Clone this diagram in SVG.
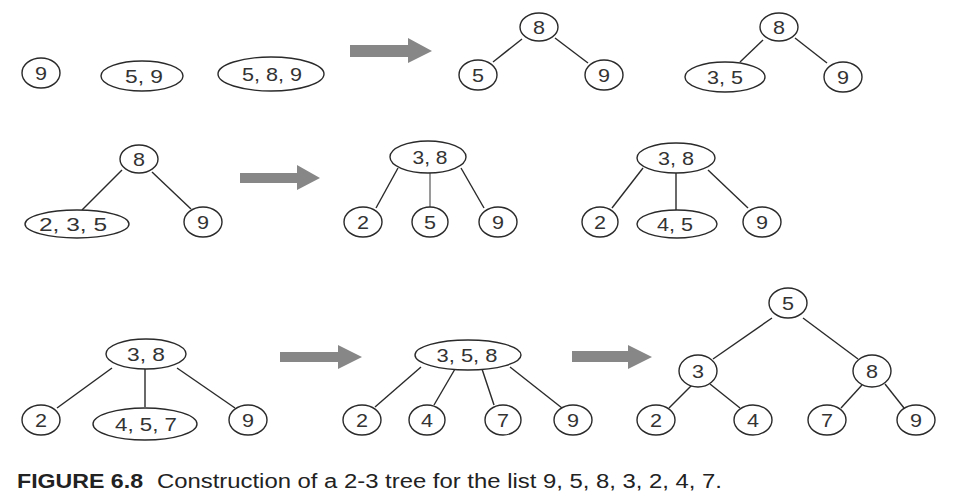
<svg xmlns="http://www.w3.org/2000/svg" width="960" height="501" viewBox="0 0 960 501">
  <style>
    .node ellipse { fill: #fff; stroke: #2a2a2a; stroke-width: 1.4; }
    .node text { font-family: "Liberation Sans", Arial, sans-serif; font-size: 19px; fill: #333; text-anchor: middle; }
    .edges line { stroke: #2a2a2a; stroke-width: 1.4; }
    .edges line.soft { stroke: #9a9a9a; stroke-width: 2; }
    .arrow { fill: #878787; }
    .cap { font-family: "Liberation Sans", Arial, sans-serif; font-size: 20px; fill: #222; }
  </style>

  <!-- connectors -->
  <g class="edges">
    <!-- row 1 -->
    <line x1="522" y1="39" x2="493" y2="62"/>
    <line x1="555" y1="38" x2="588" y2="63"/>
    <line x1="763" y1="40" x2="740" y2="62"/>
    <line x1="795" y1="38" x2="827" y2="63"/>
    <!-- row 2 -->
    <line x1="122" y1="170" x2="82" y2="210"/>
    <line x1="152" y1="172" x2="191" y2="209"/>
    <line x1="398" y1="168" x2="376" y2="208"/>
    <line class="soft" x1="430" y1="173" x2="430" y2="208"/>
    <line x1="461" y1="168" x2="484" y2="208"/>
    <line x1="643" y1="168" x2="612" y2="208"/>
    <line x1="676" y1="173" x2="676" y2="210"/>
    <line x1="708" y1="170" x2="748" y2="208"/>
    <!-- row 3 -->
    <line x1="112" y1="368" x2="57" y2="408"/>
    <line x1="145" y1="368" x2="145" y2="407"/>
    <line x1="177" y1="368" x2="235" y2="408"/>
    <line x1="421" y1="367" x2="375" y2="407"/>
    <line x1="455" y1="369" x2="434" y2="405"/>
    <line x1="482" y1="369" x2="494" y2="405"/>
    <line x1="510" y1="367" x2="562" y2="408"/>
    <line x1="772" y1="318" x2="713" y2="359"/>
    <line x1="803" y1="318" x2="858" y2="359"/>
    <line x1="692" y1="385" x2="669" y2="408"/>
    <line x1="710" y1="384" x2="740" y2="408"/>
    <line x1="862" y1="385" x2="841" y2="408"/>
    <line x1="885" y1="384" x2="904" y2="408"/>
  </g>

  <!-- step arrows -->
  <g id="arrows">
    <polygon class="arrow" points="350,45 408,45 408,38 432,51 408,63 408,57 350,57"/>
    <polygon class="arrow" points="240,173 297,173 297,165 320,178 297,190 297,183 240,183"/>
    <polygon class="arrow" points="280,352 338,352 338,345 362,357 338,369 338,362 280,362"/>
    <polygon class="arrow" points="572,351 628,351 628,345 652,357 628,369 628,362 572,362"/>
  </g>

  <!-- row 1: insert 9, 5, 8 then split -->
  <g id="n-9a" class="node"><ellipse cx="41" cy="73" rx="19" ry="15"/><text x="41" y="80" textLength="12" lengthAdjust="spacingAndGlyphs">9</text></g>
  <g id="n-59" class="node"><ellipse cx="142" cy="76" rx="41" ry="15"/><text x="144" y="83" textLength="38" lengthAdjust="spacingAndGlyphs">5, 9</text></g>
  <g id="n-589" class="node"><ellipse cx="271" cy="74" rx="53" ry="17"/><text x="272" y="81" textLength="60" lengthAdjust="spacingAndGlyphs">5, 8, 9</text></g>

  <g id="t1-8" class="node"><ellipse cx="539" cy="27" rx="19" ry="14"/><text x="539" y="34" textLength="12" lengthAdjust="spacingAndGlyphs">8</text></g>
  <g id="t1-5" class="node"><ellipse cx="478" cy="75" rx="19" ry="15"/><text x="478" y="82" textLength="12" lengthAdjust="spacingAndGlyphs">5</text></g>
  <g id="t1-9" class="node"><ellipse cx="604" cy="75" rx="19" ry="15"/><text x="604" y="82" textLength="12" lengthAdjust="spacingAndGlyphs">9</text></g>

  <g id="t2-8" class="node"><ellipse cx="779" cy="27" rx="19" ry="14"/><text x="779" y="34" textLength="12" lengthAdjust="spacingAndGlyphs">8</text></g>
  <g id="t2-35" class="node"><ellipse cx="725" cy="77" rx="40" ry="15"/><text x="725" y="84" textLength="36" lengthAdjust="spacingAndGlyphs">3, 5</text></g>
  <g id="t2-9" class="node"><ellipse cx="843" cy="77" rx="19" ry="15"/><text x="843" y="84" textLength="12" lengthAdjust="spacingAndGlyphs">9</text></g>

  <!-- row 2: insert 2, split, insert 4 -->
  <g id="t3-8" class="node"><ellipse cx="139" cy="159" rx="19" ry="14"/><text x="139" y="166" textLength="12" lengthAdjust="spacingAndGlyphs">8</text></g>
  <g id="t3-235" class="node"><ellipse cx="77" cy="224" rx="52" ry="14"/><text x="73" y="231" textLength="68" lengthAdjust="spacingAndGlyphs">2, 3, 5</text></g>
  <g id="t3-9" class="node"><ellipse cx="203" cy="222" rx="19" ry="15"/><text x="203" y="229" textLength="12" lengthAdjust="spacingAndGlyphs">9</text></g>

  <g id="t4-38" class="node"><ellipse cx="428" cy="157" rx="38" ry="16"/><text x="430" y="164" textLength="35" lengthAdjust="spacingAndGlyphs">3, 8</text></g>
  <g id="t4-2" class="node"><ellipse cx="363" cy="222" rx="19" ry="15"/><text x="363" y="229" textLength="12" lengthAdjust="spacingAndGlyphs">2</text></g>
  <g id="t4-5" class="node"><ellipse cx="430" cy="222" rx="18" ry="15"/><text x="430" y="229" textLength="12" lengthAdjust="spacingAndGlyphs">5</text></g>
  <g id="t4-9" class="node"><ellipse cx="498" cy="222" rx="19" ry="15"/><text x="498" y="229" textLength="12" lengthAdjust="spacingAndGlyphs">9</text></g>

  <g id="t5-38" class="node"><ellipse cx="676" cy="158" rx="39" ry="15"/><text x="676" y="165" textLength="36" lengthAdjust="spacingAndGlyphs">3, 8</text></g>
  <g id="t5-2" class="node"><ellipse cx="600" cy="222" rx="18" ry="15"/><text x="600" y="229" textLength="12" lengthAdjust="spacingAndGlyphs">2</text></g>
  <g id="t5-45" class="node"><ellipse cx="677" cy="224" rx="40" ry="14"/><text x="675" y="231" textLength="36" lengthAdjust="spacingAndGlyphs">4, 5</text></g>
  <g id="t5-9" class="node"><ellipse cx="762" cy="222" rx="19" ry="15"/><text x="762" y="229" textLength="12" lengthAdjust="spacingAndGlyphs">9</text></g>

  <!-- row 3: insert 7, split twice -->
  <g id="t6-38" class="node"><ellipse cx="146" cy="354" rx="40" ry="15"/><text x="146" y="361" textLength="38" lengthAdjust="spacingAndGlyphs">3, 8</text></g>
  <g id="t6-2" class="node"><ellipse cx="41" cy="420" rx="19" ry="15"/><text x="41" y="427" textLength="12" lengthAdjust="spacingAndGlyphs">2</text></g>
  <g id="t6-457" class="node"><ellipse cx="145" cy="424" rx="52" ry="16"/><text x="146" y="431" textLength="62" lengthAdjust="spacingAndGlyphs">4, 5, 7</text></g>
  <g id="t6-9" class="node"><ellipse cx="248" cy="420" rx="19" ry="15"/><text x="248" y="427" textLength="12" lengthAdjust="spacingAndGlyphs">9</text></g>

  <g id="t7-358" class="node"><ellipse cx="468" cy="355" rx="53" ry="15"/><text x="467" y="362" textLength="61" lengthAdjust="spacingAndGlyphs">3, 5, 8</text></g>
  <g id="t7-2" class="node"><ellipse cx="362" cy="420" rx="19" ry="15"/><text x="362" y="427" textLength="12" lengthAdjust="spacingAndGlyphs">2</text></g>
  <g id="t7-4" class="node"><ellipse cx="427" cy="420" rx="18" ry="15"/><text x="427" y="427" textLength="12" lengthAdjust="spacingAndGlyphs">4</text></g>
  <g id="t7-7" class="node"><ellipse cx="503" cy="420" rx="18" ry="15"/><text x="503" y="427" textLength="12" lengthAdjust="spacingAndGlyphs">7</text></g>
  <g id="t7-9" class="node"><ellipse cx="573" cy="420" rx="19" ry="15"/><text x="573" y="427" textLength="12" lengthAdjust="spacingAndGlyphs">9</text></g>

  <g id="t8-5" class="node"><ellipse cx="788" cy="303" rx="19" ry="15"/><text x="788" y="310" textLength="12" lengthAdjust="spacingAndGlyphs">5</text></g>
  <g id="t8-3" class="node"><ellipse cx="698" cy="371" rx="19" ry="16"/><text x="698" y="378" textLength="12" lengthAdjust="spacingAndGlyphs">3</text></g>
  <g id="t8-8" class="node"><ellipse cx="872" cy="371" rx="19" ry="16"/><text x="872" y="378" textLength="12" lengthAdjust="spacingAndGlyphs">8</text></g>
  <g id="t8-2" class="node"><ellipse cx="656" cy="420" rx="19" ry="15"/><text x="656" y="427" textLength="12" lengthAdjust="spacingAndGlyphs">2</text></g>
  <g id="t8-4" class="node"><ellipse cx="753" cy="420" rx="19" ry="15"/><text x="753" y="427" textLength="12" lengthAdjust="spacingAndGlyphs">4</text></g>
  <g id="t8-7" class="node"><ellipse cx="827" cy="420" rx="19" ry="15"/><text x="827" y="427" textLength="12" lengthAdjust="spacingAndGlyphs">7</text></g>
  <g id="t8-9" class="node"><ellipse cx="916" cy="420" rx="19" ry="15"/><text x="916" y="427" textLength="12" lengthAdjust="spacingAndGlyphs">9</text></g>

  <!-- caption -->
  <text class="cap" x="17" y="488" font-weight="bold" textLength="126" lengthAdjust="spacingAndGlyphs">FIGURE 6.8</text>
  <text class="cap" x="157" y="488" textLength="565" lengthAdjust="spacingAndGlyphs">Construction of a 2-3 tree for the list 9, 5, 8, 3, 2, 4, 7.</text>
</svg>
